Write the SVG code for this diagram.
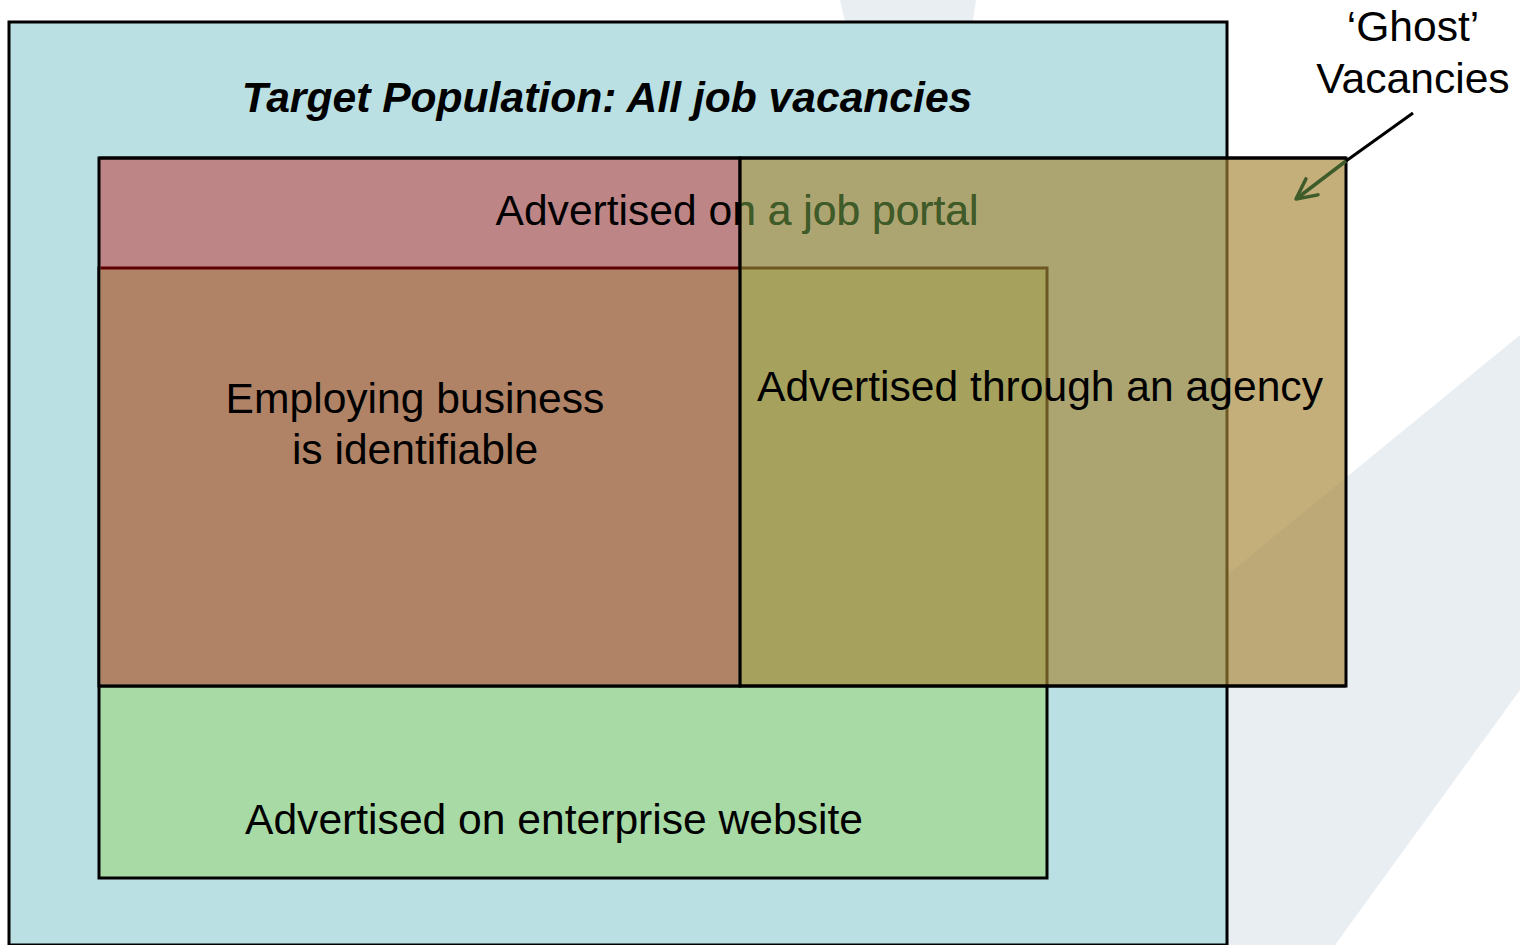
<svg xmlns="http://www.w3.org/2000/svg" width="1520" height="945" viewBox="0 0 1520 945">
  <defs>
    <style>
      text { font-family: "Liberation Sans", Arial, sans-serif; font-size: 42.6px; fill: #000; }
      .title { font-weight: bold; font-style: italic; }
      .box { stroke: #000; stroke-width: 3; }
      .edge { fill: none; stroke: #000; stroke-width: 3; }
      .under { fill: #3E5B2A; }
    </style>
    <marker id="arrow-open" markerUnits="userSpaceOnUse" viewBox="-26 -14 30 28" refX="0" refY="0" markerWidth="30" markerHeight="28" orient="auto" overflow="visible">
      <path d="M-20,-10 L0,0 L-20,10" fill="none" stroke="#3E5B2A" stroke-width="3.5" stroke-linecap="round" stroke-linejoin="round"/>
    </marker>
    <clipPath id="agency-area">
      <rect x="740" y="158" width="606" height="528"/>
    </clipPath>
  </defs>

  <!-- page background with faint slanted panels -->
  <rect x="0" y="0" width="1520" height="945" fill="#FFFFFF"/>
  <polygon points="840,0 976,0 973,21 845,21" fill="#E9EEF3"/>
  <polygon points="1520,335 1520,690 1335,945 1227,945 1227,575" fill="#E9EEF3"/>

  <!-- target population -->
  <g id="target-population">
    <rect class="box" x="9" y="22" width="1218" height="923" fill="#BAE0E3"/>
    <text class="title" x="607" y="112" text-anchor="middle">Target Population: All job vacancies</text>
  </g>

  <!-- advertised on enterprise website -->
  <g id="enterprise-website">
    <rect class="box" x="99" y="268" width="948" height="610" fill="#A8DAA6"/>
    <text x="554" y="834" text-anchor="middle">Advertised on enterprise website</text>
  </g>

  <!-- advertised on a job portal -->
  <g id="job-portal">
    <rect x="99" y="158" width="641" height="110" fill="#BE8587"/>
    <rect class="edge" x="99" y="158" width="641" height="528"/>
    <text x="737" y="225" text-anchor="middle">Advertised on a job portal</text>
  </g>

  <!-- employing business is identifiable -->
  <g id="employer-identifiable">
    <rect x="100.5" y="268" width="638" height="416.5" fill="#B08366"/>
    <line x1="100.5" y1="268" x2="740" y2="268" stroke="#5A0000" stroke-width="3"/>
    <text x="415" y="413" text-anchor="middle">Employing business</text>
    <text x="415" y="464" text-anchor="middle">is identifiable</text>
  </g>

  <!-- advertised through an agency (translucent) -->
  <g id="agency">
    <rect x="740" y="158" width="606" height="528" fill="#A68637" fill-opacity="0.66"/>
    <g clip-path="url(#agency-area)">
      <text class="under" x="737" y="225" text-anchor="middle">Advertised on a job portal</text>
    </g>
    <rect class="edge" x="740" y="158" width="606" height="528"/>
    <line x1="99" y1="158" x2="1346" y2="158" stroke="#000" stroke-width="3"/>
    <line x1="99" y1="686" x2="1346" y2="686" stroke="#000" stroke-width="3"/>
    <text x="757" y="401">Advertised through an agency</text>
  </g>

  <!-- ghost vacancies callout -->
  <g id="ghost-vacancies">
    <text x="1413" y="41" text-anchor="middle">‘Ghost’</text>
    <text x="1413" y="93" text-anchor="middle">Vacancies</text>
  </g>

  <g id="connectors">
    <line x1="1413" y1="113" x2="1346" y2="161" stroke="#000" stroke-width="3"/>
    <line x1="1346" y1="161" x2="1296" y2="199" stroke="#3E5B2A" stroke-width="3.5" marker-end="url(#arrow-open)"/>
  </g>
</svg>
